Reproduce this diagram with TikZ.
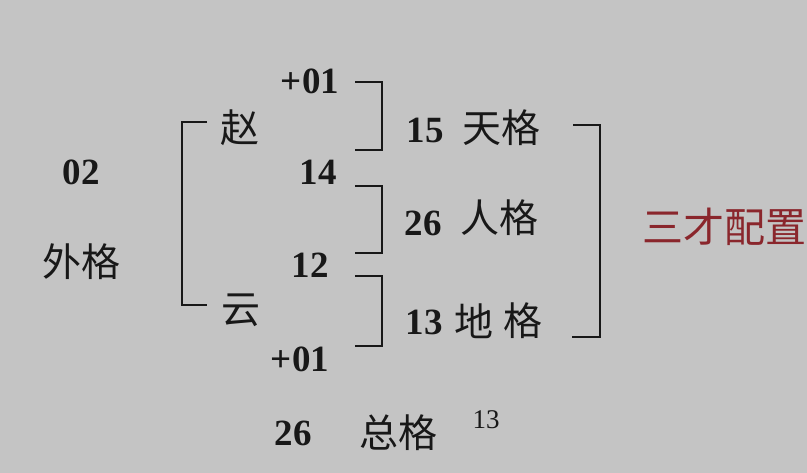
\documentclass[tikz,border=0pt]{standalone}
\usepackage{fontspec}
\setmainfont{Liberation Serif}
\newfontfamily\cjk{Noto Sans CJK SC}
\definecolor{bgray}{RGB}{196,196,196}
\definecolor{ink}{RGB}{24,24,24}
\definecolor{sancai}{RGB}{138,38,44}

\begin{document}
\begin{tikzpicture}[x=1pt,y=1pt]
    \tikzstyle{every node}+=[inner sep=0pt, text=ink]
    \tikzstyle{num}=[font=\fontsize{37}{37}\selectfont\bfseries]
    \tikzstyle{sup}=[font=\fontsize{27}{27}\selectfont]
    \tikzstyle{han}=[font=\fontsize{39}{39}\selectfont\cjk]
    \tikzstyle{brk}=[line width=2pt, ink]
    \fill [bgray] (0,0) rectangle (807,-473);
    \useasboundingbox (0,0) rectangle (807,-473);
    % left column
    \draw (81,-172) node[num] (wainum) {02};
    \draw (81,-262) node[han] (wai) {外格};
    \draw (240,-128) node[han] (zhao) {赵};
    \draw (241,-310) node[han] (yun) {云};
    \draw [brk] (207,-122) -- (182,-122) -- (182,-305) -- (207,-305);
    % strokes
    \draw (310,-81) node[num] (plustop) {+01};
    \draw (318,-172) node[num] (zhaonum) {14};
    \draw (310,-265) node[num] (yunnum) {12};
    \draw (300,-359) node[num] (plusbot) {+01};
    \draw [brk] (355,-82) -- (382,-82) -- (382,-150) -- (355,-150);
    \draw [brk] (355,-186) -- (382,-186) -- (382,-253) -- (355,-253);
    \draw [brk] (355,-276) -- (382,-276) -- (382,-346) -- (355,-346);
    % san cai
    \draw (425,-130) node[num] (tiannum) {15};
    \draw (501,-128) node[han] (tian) {天格};
    \draw (423,-223) node[num] (rennum) {26};
    \draw (499,-218) node[han] (ren) {人格};
    \draw (424,-322) node[num] (dinum) {13};
    \draw (474,-321) node[han] (di) {地};
    \draw (523,-321) node[han] (dige) {格};
    \draw [brk] (573,-125) -- (600,-125) -- (600,-337) -- (572,-337);
    \draw (724,-227) node[han, font=\fontsize{41}{41}\selectfont\cjk, text=sancai] (sancai) {三才配置};
    % total
    \draw (293,-433) node[num] (zongnum) {26};
    \draw (398,-433) node[han] (zong) {总格};
    \draw (486,-420) node[sup] (zongsup) {13};
\end{tikzpicture}
\end{document}
